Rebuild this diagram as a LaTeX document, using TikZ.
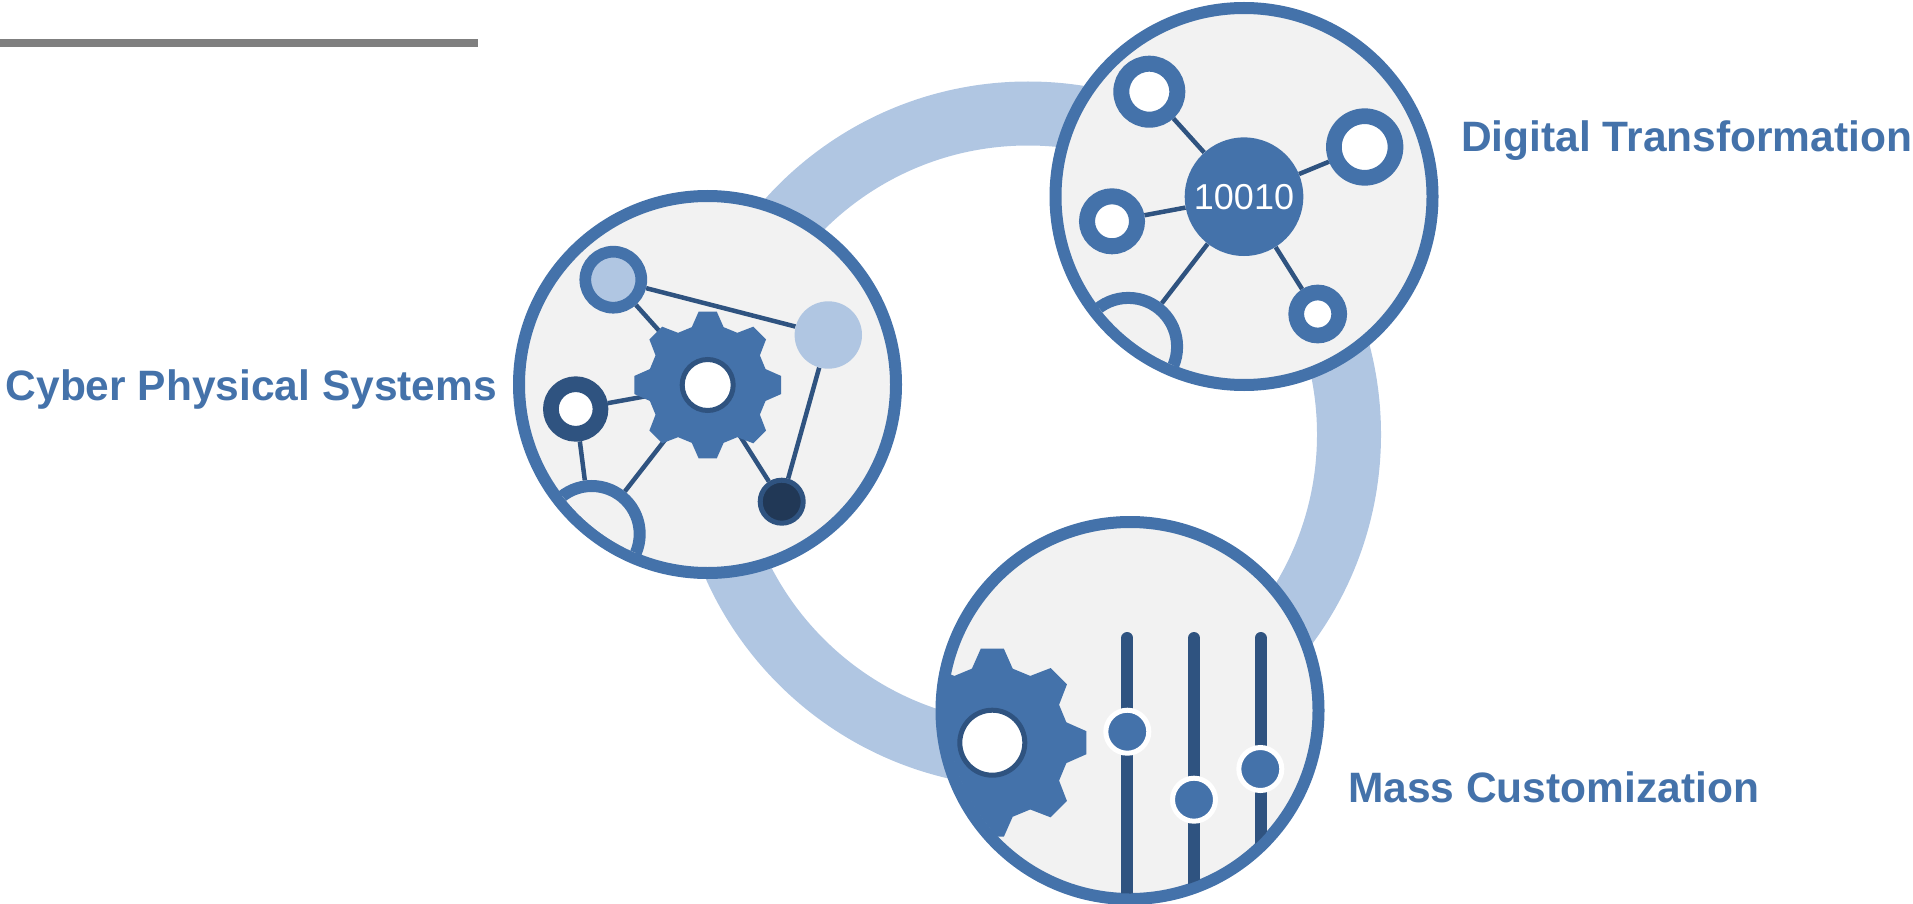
\documentclass[tikz,border=0pt]{standalone}
\usepackage{fontspec}
\setmainfont{Liberation Sans}
\usetikzlibrary{backgrounds}
\definecolor{ringblue}{HTML}{B0C6E2}
\definecolor{mainblue}{HTML}{4472AA}
\definecolor{darkblue}{HTML}{2F5380}
\definecolor{nightblue}{HTML}{213856}
\definecolor{panelgray}{HTML}{F2F2F2}
\definecolor{rulegray}{HTML}{7F7F7F}
\tikzset{
  panel/.style={circle,draw=mainblue,fill=panelgray,line width=12pt,minimum size=377pt,inner sep=0pt},
  ringnode/.style={circle,draw=mainblue,fill=white,inner sep=0pt},
  hole/.style={circle,draw=darkblue,fill=white,line width=5pt,inner sep=0pt},
  halfnode/.style={circle,draw=mainblue,fill=panelgray,line width=12pt,inner sep=0pt},
  link/.style={draw=darkblue,line width=4.5pt},
  track/.style={draw=darkblue,line width=12pt,line cap=round},
  knob/.style={circle,draw=white,fill=mainblue,line width=5pt,minimum size=43pt,inner sep=0pt},
  caption/.style={text=mainblue,font=\fontsize{42.5}{50}\selectfont\bfseries,inner sep=0pt,anchor=base west},
  gear/.pic={
    \fill[mainblue] (-15.4:60) \foreach \a in {0,45,...,315} {
      -- (\a-15.4:60) -- (\a-7:74) -- (\a+7:74) -- (\a+15.4:60)} -- cycle;
  }
}
\begin{document}
\begin{tikzpicture}[x=1pt,y=-1pt]
  \useasboundingbox (0,0) rectangle (1913,904);
  % grey rule top left
  \fill[rulegray] (0,39.5) rectangle (478,47.5);
  \begin{scope}[on background layer]
    % large ring behind the three discs
    \draw[ringblue,line width=64pt] (1028,434.5) circle (321);
    % the three discs
    \node[panel] (cps) at (707.5,384.5) {};
    \node[panel] (dt) at (1244,196.5) {};
    \node[panel] (mc) at (1130,710.5) {};
  \end{scope}
  % Cyber Physical Systems disc
  \begin{scope}
    \clip (707.5,384.5) circle (183);
    \node[halfnode,minimum size=96pt] (cpshalf) at (591.7,534) {};
  \end{scope}
  \pic at (707.7,385) {gear};
  \node[hole,minimum size=51pt] (cpsgear) at (707.7,385) {};
  \node[ringnode,fill=ringblue,line width=11.7pt,minimum size=56pt] (cpsa) at (613.3,279.7) {};
  \node[circle,fill=ringblue,minimum size=67.4pt,inner sep=0pt] (cpsb) at (828.3,335) {};
  \node[ringnode,draw=darkblue,line width=15.7pt,minimum size=49.6pt] (cpsc) at (575.7,409) {};
  \node[circle,draw=darkblue,fill=nightblue,line width=5pt,minimum size=43pt,inner sep=0pt] (cpsd) at (781.7,501.7) {};
  % Digital Transformation disc
  \begin{scope}
    \clip (1244,196.5) circle (183);
    \node[halfnode,minimum size=97.6pt] (dthalf) at (1128.3,346.7) {};
  \end{scope}
  \node[circle,fill=mainblue,text=white,minimum size=118.6pt,inner sep=0pt,font=\fontsize{36}{36}\selectfont] (dthub) at (1244,196.7) {10010};
  \node[ringnode,line width=16pt,minimum size=56pt] (dta) at (1149.3,91.7) {};
  \node[ringnode,line width=15.7pt,minimum size=61.6pt] (dtb) at (1364.7,147) {};
  \node[ringnode,line width=16pt,minimum size=50pt] (dtc) at (1112,221.3) {};
  \node[ringnode,line width=15.7pt,minimum size=43pt] (dtd) at (1317.7,314) {};
  % Mass Customization disc
  \begin{scope}
    \clip (1130,710.5) circle (183);
    \pic[scale=1.28] at (992.3,742.7) {gear};
    \node[hole,minimum size=65pt] (mcgear) at (992.3,742.7) {};
    \coordinate (tracka) at (1127.3,638);
    \coordinate (trackb) at (1194,638);
    \coordinate (trackc) at (1260.7,638);
    \coordinate (tracka end) at (1127.3,920);
    \coordinate (trackb end) at (1194,920);
    \coordinate (trackc end) at (1260.7,920);
    \draw[track] (tracka) -- (tracka end);
    \draw[track] (trackb) -- (trackb end);
    \draw[track] (trackc) -- (trackc end);
    \node[knob] (knoba) at (1127.3,731.7) {};
    \node[knob] (knobb) at (1194,799.7) {};
    \node[knob] (knobc) at (1260.3,769) {};
  \end{scope}
  \begin{scope}[on background layer]
    % connectors of the left disc
    \draw[link] (cpsa) -- (cpsgear);
    \draw[link] (cpsa) -- (cpsb);
    \draw[link] (cpsb) -- (cpsd);
    \draw[link] (cpsc) -- (cpsgear);
    \draw[link] (cpsc) -- (cpshalf);
    \draw[link] (cpshalf) -- (cpsgear);
    \draw[link] (cpsgear) -- (cpsd);
    % connectors of the upper disc
    \draw[link] (dta) -- (dthub);
    \draw[link] (dtb) -- (dthub);
    \draw[link] (dtc) -- (dthub);
    \draw[link] (dtd) -- (dthub);
    \draw[link] (dthalf) -- (dthub);
  \end{scope}
  % labels
  \node[caption] (cpslabel) at (5.5,400) {Cyber Physical Systems};
  \node[caption] (dtlabel) at (1461,151.7) {Digital Transformation};
  \node[caption] (mclabel) at (1348,802.7) {Mass Customization};
\end{tikzpicture}
\end{document}
